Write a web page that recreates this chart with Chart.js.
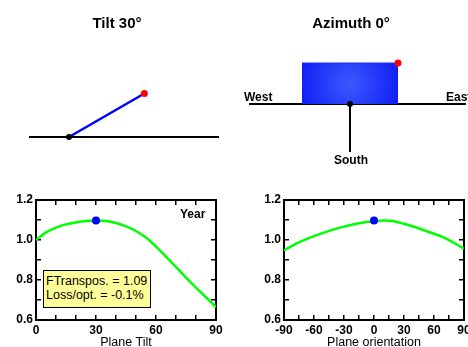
<!DOCTYPE html>
<html>
<head>
<meta charset="utf-8">
<script src="https://cdn.jsdelivr.net/npm/chart.js@4.4.1/dist/chart.umd.min.js"></script>
<style>
html,body{margin:0;padding:0;background:#fff;width:468px;height:347px;overflow:hidden;}
canvas{position:absolute;}
.lbl{position:absolute;font:bold 12px "Liberation Sans",Arial,sans-serif;color:#000;white-space:nowrap;line-height:14px;}
#box{position:absolute;left:43px;top:270px;width:108px;height:38px;box-sizing:border-box;background:#ffff99;border:1px solid #000;font:12.5px "Liberation Sans",Arial,sans-serif;line-height:13.5px;padding:4px 0 0 2px;color:#000;white-space:nowrap;}
</style>
</head>
<body>
<canvas id="cTilt" width="234" height="175" style="left:0;top:0;width:234px;height:175px"></canvas>
<canvas id="cAz" width="234" height="175" style="left:234px;top:0;width:234px;height:175px"></canvas>
<canvas id="cTiltCurve" width="234" height="172" style="left:0;top:175px;width:234px;height:172px"></canvas>
<canvas id="cAzCurve" width="234" height="172" style="left:234px;top:175px;width:234px;height:172px"></canvas>
<div class="lbl" style="left:180px;top:207px">Year</div>
<div id="box"><div id="l1"></div><div id="l2"></div></div>
<div class="lbl" style="left:244px;top:90px">West</div>
<div class="lbl" style="left:446px;top:90px">East</div>
<div class="lbl" style="left:334px;top:153px">South</div>
<script>
// ---- data ----
const tiltDeg = 30;
const azimuthDeg = 0;
const tiltAngles = [0,5,10,15,20,25,30,35,40,45,50,55,60,65,70,75,80,85,90];
const tiltFactor = [1.000,1.038,1.062,1.078,1.088,1.095,1.098,1.095,1.085,1.068,1.045,1.012,0.967,0.917,0.865,0.812,0.762,0.713,0.665];
const azAngles = [-90,-80,-70,-60,-50,-40,-30,-20,-10,0,10,20,30,40,50,60,70,80,90];
const azFactor = [0.948,0.976,0.999,1.019,1.037,1.053,1.067,1.079,1.088,1.094,1.097,1.094,1.081,1.066,1.049,1.031,1.012,0.986,0.956];
const tiltOptimumValue = 1.097;
const azOptimumValue = 1.097;
const fTranspos = 1.09;
const lossOpt = -0.1;
const yTickLabels = ['0.6','0.8','1.0','1.2'];

// ---- diagram geometry (layout) ----
const FONT = '"Liberation Sans", Arial, sans-serif';
const panelLen = 87;
const tiltGround = [-40, 150];
const azGround = [-101, 116];
const azHalfWidth = 48, azDepth = 41, southLen = 48;

document.getElementById('l1').textContent = 'FTranspos. = ' + fTranspos.toFixed(2);
document.getElementById('l2').textContent = 'Loss/opt. = ' + lossOpt.toFixed(1) + '%';

Chart.defaults.animation = false;
Chart.defaults.font.family = FONT;
Chart.defaults.color = '#000';

function titleOpts(text){
  return {display:true, text:text, color:'#000', font:{family:FONT,size:15,weight:'bold',lineHeight:1.2}, padding:{top:15,bottom:7}};
}
function hiddenScales(xmin,xmax,ymin,ymax){
  return {
    x:{type:'linear',display:false,min:xmin,max:xmax},
    y:{type:'linear',display:false,min:ymin,max:ymax}
  };
}

// Tilt diagram
const rad = tiltDeg*Math.PI/180;
new Chart(document.getElementById('cTilt'), {
  type:'scatter',
  data:{datasets:[
    {data:[{x:0,y:0}], pointRadius:3, pointBackgroundColor:'#000', pointBorderWidth:0},
    {data:[{x:panelLen*Math.cos(rad), y:panelLen*Math.sin(rad)}], pointRadius:3.5, pointBackgroundColor:'#ff0000', pointBorderWidth:0},
    {data:[{x:0,y:0},{x:panelLen*Math.cos(rad), y:panelLen*Math.sin(rad)}], showLine:true, borderColor:'#0000ff', borderWidth:2.5, pointRadius:0},
    {data:[{x:tiltGround[0],y:0},{x:tiltGround[1],y:0}], showLine:true, borderColor:'#000', borderWidth:2, pointRadius:0}
  ]},
  options:{responsive:false, layout:{padding:0, autoPadding:false},
    plugins:{legend:{display:false}, tooltip:{enabled:false}, title:titleOpts('Tilt ' + tiltDeg + '°')},
    scales:hiddenScales(-69,165,-38,97)}
});

// Azimuth diagram
const azHW = azHalfWidth*Math.cos(azimuthDeg*Math.PI/180);
new Chart(document.getElementById('cAz'), {
  type:'scatter',
  data:{datasets:[
    {data:[{x:0,y:0}], pointRadius:3, pointBackgroundColor:'#000', pointBorderWidth:0},
    {data:[{x:azHW,y:azDepth}], pointRadius:3.5, pointBackgroundColor:'#ff0000', pointBorderWidth:0},
    {data:[{x:0,y:0},{x:0,y:-southLen}], showLine:true, borderColor:'#000', borderWidth:2, pointRadius:0},
    {data:[{x:-azHW,y:azDepth},{x:azHW,y:azDepth}], showLine:true, borderColor:'#1a30ff', borderWidth:1, pointRadius:0,
      fill:{value:0},
      backgroundColor:(ctx)=>{
        const ch = ctx.chart, xs = ch.scales && ch.scales.x, ys = ch.scales && ch.scales.y;
        if(!xs || !ys) return '#1a30ff';
        const cx = xs.getPixelForValue(0), cy = ys.getPixelForValue(azDepth/2);
        if(!isFinite(cx) || !isFinite(cy)) return '#1a30ff';
        const g = ch.ctx.createRadialGradient(cx,cy,0,cx,cy,60);
        g.addColorStop(0,'#3a5aff'); g.addColorStop(1,'#0a14f2');
        return g;
      }},
    {data:[{x:azGround[0],y:0},{x:azGround[1],y:0}], showLine:true, borderColor:'#000', borderWidth:2, pointRadius:0}
  ]},
  options:{responsive:false, layout:{padding:0, autoPadding:false},
    plugins:{legend:{display:false}, tooltip:{enabled:false}, filler:{propagate:false}, title:titleOpts('Azimuth ' + azimuthDeg + '°')},
    scales:hiddenScales(-116,118,-71,64)}
});

// Curves
function curveChart(id, xs, ys, dotX, dotY, xmin, xmax, xstep, labStep, xtitle, leftW, rightW){
  const tickFont = {family:FONT,size:12,weight:'bold'};
  const grid = {drawOnChartArea:false, drawTicks:true, tickLength:-5, color:'#000', lineWidth:1.5};
  const border = {display:true, color:'#000', width:2};
  const noPad = s => { s.paddingLeft=0; s.paddingRight=0; s.paddingTop=0; s.paddingBottom=0; };
  const yLab = v => { const s = v.toFixed(1); return yTickLabels.includes(s) ? s : ''; };
  new Chart(document.getElementById(id), {
    type:'line',
    data:{datasets:[
      {data:[{x:dotX,y:dotY}], showLine:false, pointRadius:4, pointBackgroundColor:'#0000ff', pointBorderWidth:0},
      {data:xs.map((x,i)=>({x:x,y:ys[i]})), borderColor:'#00ff00', borderWidth:2.5, pointRadius:0, cubicInterpolationMode:'monotone'}
    ]},
    options:{responsive:false, layout:{padding:0, autoPadding:false},
      plugins:{legend:{display:false}, tooltip:{enabled:false}},
      scales:{
        x:{type:'linear', position:'bottom', min:xmin, max:xmax, grid:grid, border:border,
           ticks:{stepSize:xstep, autoSkip:false, maxRotation:0, padding:8, font:tickFont, color:'#000',
             callback:v => (v % labStep === 0 ? String(v) : '')},
           title:{display:true, text:xtitle, color:'#000', font:{family:FONT,size:12.5}, padding:{top:0,bottom:-3}},
           afterFit:s=>{ s.height = 27; noPad(s); }},
        x2:{type:'linear', position:'top', min:xmin, max:xmax, grid:grid, border:border,
           ticks:{stepSize:xstep, autoSkip:false, display:false},
           afterFit:s=>{ s.height = 25; noPad(s); }},
        y:{type:'linear', position:'left', min:0.6, max:1.2, grid:grid, border:border,
           ticks:{stepSize:0.1, autoSkip:false, padding:8, font:tickFont, color:'#000', callback:yLab},
           afterFit:s=>{ s.width = leftW; noPad(s); }},
        y2:{type:'linear', position:'right', min:0.6, max:1.2, grid:grid, border:border,
           ticks:{stepSize:0.1, autoSkip:false, display:false},
           afterFit:s=>{ s.width = rightW; noPad(s); }}
      }}
  });
}
curveChart('cTiltCurve', tiltAngles, tiltFactor, tiltDeg, tiltOptimumValue, 0, 90, 10, 30, 'Plane Tilt', 36, 18);
curveChart('cAzCurve', azAngles, azFactor, azimuthDeg, azOptimumValue, -90, 90, 15, 30, 'Plane orientation', 50, 4);
</script>
</body>
</html>
